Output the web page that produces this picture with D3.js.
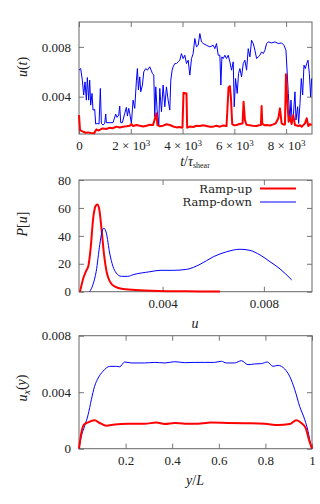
<!DOCTYPE html>
<html>
<head>
<meta charset="utf-8">
<script src="https://cdn.jsdelivr.net/npm/d3@7"></script>
<style>
body{margin:0;background:#fff;}
svg text{font-family:"Liberation Serif","DejaVu Serif",serif;fill:#222;}
svg text.leg{font-family:"DejaVu Serif",serif;}
</style>
</head>
<body>
<div id="chart"></div>
<script>
// top panel: u(t) time series
var timeDown=[0,64,129,181,232,284,322,374,413,451,503,542,606,645,709,774,825,864,928,993,1032,1057,1315,1418,1470,1534,1573,1612,1676,1766,1831,1870,1921,1960,2024,2089,2153,2218,2256,2295,2347,2385,2450,2501,2579,2643,2734,2798,2837,2888,2927,2966,3017,3082,3120,3185,3249,3314,3378,3443,3507,3546,3597,3636,3701,3765,3830,3894,3958,4023,4087,4152,4216,4281,4345,4410,4474,4539,4603,4668,4732,4797,4925,5054,5183,5248,5312,5377,5441,5480,5519,5570,5635,5699,5764,5828,5893,5957,5996,6047,6112,6163,6215,6279,6344,6408,6473,6537,6602,6666,6731,6795,6860,6924,6988,7053,7117,7182,7246,7311,7440,7569,7698,7827,7917,7994,8085,8149,8188,8226,8278,8342,8381,8445,8484,8536,8587,8639,8690,8742,8794,8845,8897,8948,8987];
var uDown=[6.13,6.26,5.33,4.13,5.19,3.72,5.54,3.72,5.33,3.32,4.26,2.92,2.98,1.80,1.85,1.80,4.66,1.85,1.72,1.85,2.60,1.91,1.91,2.60,2.34,2.52,3.24,1.91,1.91,2.66,3.14,2.44,3.06,2.66,1.85,3.72,3.06,5.33,6.26,4.53,5.59,4.39,4.93,5.99,6.26,6.13,6.40,6.07,5.86,5.73,2.39,4.79,2.92,1.72,4.66,2.79,4.93,3.19,4.79,3.72,2.92,5.33,6.13,6.40,6.66,6.66,6.80,6.93,7.46,7.06,7.33,6.66,6.93,5.73,7.06,7.46,8.67,8.00,8.13,9.07,8.40,8.27,8.13,8.00,8.13,7.86,8.27,7.33,7.33,4.93,7.20,7.06,7.33,7.06,7.33,6.80,6.13,6.80,3.19,5.46,4.26,5.86,6.26,5.59,6.66,6.93,6.13,7.86,7.20,8.53,8.27,7.73,7.06,7.20,7.33,7.60,7.46,7.73,8.27,8.40,8.32,8.40,8.27,8.32,8.13,7.73,4.26,2.12,3.72,2.26,2.39,4.39,2.12,3.19,1.85,3.46,5.46,4.13,6.53,6.26,6.66,6.93,5.86,3.99,5.46];
var timeUp=[0,39,155,250,348,450,580,670,740,799,860,928,1060,1186,1300,1444,1570,1702,1830,1960,2024,2089,2220,2347,2480,2605,2740,2862,2991,3030,3130,3249,3380,3507,3640,3765,3880,3997,4036,4152,4178,4300,4410,4540,4668,4800,4925,5050,5183,5310,5441,5570,5699,5776,5828,5867,5918,6000,6086,6200,6318,6357,6408,6470,6537,6700,6860,6950,7027,7053,7079,7160,7246,7380,7504,7600,7698,7762,7827,7890,7955,7994,8046,8097,8149,8213,8278,8342,8410,8471,8540,8600,8670,8729,8794,8858,8920,8987];
var uUp=[2.52,1.32,1.19,1.10,1.13,1.08,1.05,1.37,1.28,1.32,1.40,1.45,1.40,1.51,1.46,1.59,1.52,1.59,1.62,1.67,1.80,1.64,1.72,1.67,1.60,1.67,1.74,1.72,2.66,1.72,1.62,1.67,1.78,1.72,1.60,1.53,1.56,1.51,4.31,4.26,1.51,1.60,1.56,1.66,1.64,1.70,1.64,1.58,1.59,1.66,1.59,1.68,1.64,4.74,4.85,3.99,1.80,1.70,1.72,1.80,1.85,3.59,2.12,1.75,1.72,1.66,1.64,1.70,1.72,3.24,1.85,1.70,1.72,1.68,1.77,1.86,2.26,3.06,1.85,1.76,1.77,5.81,3.72,1.99,2.39,1.80,2.52,1.72,1.68,1.64,1.70,1.59,1.72,1.85,2.26,1.64,1.80,1.72];

// middle panel: P[u]
var pdfUpU=[0.00074,0.00087,0.00098,0.00107,0.00116,0.00126,0.00136,0.00142,0.00149,0.00160,0.00169,0.00179,0.00192,0.00212,0.00245,0.0031,0.00416,0.00548,0.00627];
var pdfUpP=[0,9.6,14.8,18.5,31,52.6,61.5,62.5,60,43,26.3,14.3,7.2,3.6,1.9,1.0,0.4,0.2,0.1];
var pdfDownU=[0.00112,0.00125,0.00138,0.00152,0.00161,0.00168,0.00178,0.00191,0.00204,0.00217,0.00237,0.00263,0.00284,0.0035,0.0039,0.00442,0.00495,0.00548,0.0060,0.00653,0.00706,0.00745,0.00785,0.00824,0.00864,0.0091];
var pdfDownP=[0,5,14.6,33.7,43.3,45.5,42,27.7,18.2,13.4,11,11,12.2,14.3,15.3,15.3,16,19.6,25,28.6,30.4,29.6,26.3,21.5,16.3,8.4];

// bottom panel: u_x(y)
var profDownY=[0,0.01,0.024,0.039,0.053,0.067,0.082,0.103,0.132,0.16,0.175,0.196,0.225,0.282,0.325,0.368,0.411,0.454,0.497,0.539,0.582,0.611,0.632,0.668,0.697,0.725,0.754,0.782,0.808,0.833,0.854,0.883,0.904,0.926,0.947,0.969,0.983,0.993,1];
var profDownU=[0,0.00088,0.00159,0.0024,0.00347,0.00442,0.005,0.00548,0.00583,0.00583,0.0058,0.00614,0.00607,0.00607,0.00611,0.00607,0.00616,0.00609,0.00611,0.00611,0.00611,0.00619,0.00607,0.00607,0.00623,0.00595,0.006,0.00602,0.00614,0.00583,0.0059,0.00564,0.00513,0.00418,0.003,0.00205,0.00123,0.0004,0];
var profUpY=[0,0.01,0.021,0.039,0.067,0.089,0.117,0.153,0.21,0.282,0.332,0.368,0.411,0.454,0.497,0.568,0.64,0.711,0.797,0.854,0.904,0.933,0.954,0.973,0.987,1];
var profUpU=[0,0.00111,0.0017,0.00187,0.00201,0.00182,0.00163,0.00172,0.00177,0.00177,0.00185,0.00175,0.00182,0.00177,0.00177,0.00185,0.00182,0.0018,0.00177,0.00167,0.00175,0.00201,0.00182,0.00146,0.00064,0];

var legendNames=["Ramp-up","Ramp-down"];
var tTicks=[0,2000,4000,6000,8000];

var width=320, height=504;
var left=79, right=312;
var svg=d3.select("#chart").append("svg").attr("width",width).attr("height",height);

function zip(a,b){ return a.map(function(v,i){ return [v,b[i]]; }); }

function panel(top,bottom,x,y,xt,yt,xfmt,yfmt){
    var g=svg.append("g");
    g.append("g").attr("class","xax").attr("transform","translate(0,"+bottom+")")
      .call(d3.axisBottom(x).tickValues(xt).tickSizeInner(-5).tickSizeOuter(0).tickPadding(7).tickFormat(xfmt));
    g.append("g").attr("transform","translate(0,"+top+")")
      .call(d3.axisTop(x).tickValues(xt).tickSizeInner(-5).tickSizeOuter(0).tickFormat(""));
    g.append("g").attr("transform","translate("+left+",0)")
      .call(d3.axisLeft(y).tickValues(yt).tickSizeInner(-5).tickSizeOuter(0).tickPadding(8).tickFormat(yfmt));
    g.append("g").attr("transform","translate("+right+",0)")
      .call(d3.axisRight(y).tickValues(yt).tickSizeInner(-5).tickSizeOuter(0).tickFormat(""));
    g.selectAll(".domain").remove();
    g.selectAll(".tick line").attr("stroke","#777");
    g.selectAll(".tick text").attr("font-size","13px").attr("fill","#222");
    g.append("rect").attr("x",left).attr("y",top).attr("width",right-left).attr("height",bottom-top)
      .attr("fill","none").attr("stroke","#666").attr("stroke-width",1);
    return g;
}

function drawLine(g,data,x,y,color,w,curve){
    var line=d3.line().x(function(d){return x(d[0]);}).y(function(d){return y(d[1]);});
    if(curve) line.curve(curve);
    g.append("path").datum(data).attr("d",line).attr("fill","none")
      .attr("stroke",color).attr("stroke-width",w).attr("stroke-linejoin","round");
}

// ---- panel 1
var x1=d3.scaleLinear().domain([0,9000]).range([left,right]);
var y1=d3.scaleLinear().domain([0.001,0.01]).range([134,22]);
var g1=panel(22,134,x1,y1,tTicks,[0.004,0.008],function(){return "";},d3.format(".3f"));
// x labels like 2 × 10^3
g1.selectAll(".xax .tick text").each(function(d){
    var t=d3.select(this);
    if(d===0){ t.text("0"); return; }
    t.text(null);
    t.append("tspan").text((d/1000)+" \u00d7 10");
    t.append("tspan").attr("dy","-0.45em").attr("font-size","9px").text("3");
});
drawLine(g1,zip(timeDown,uDown.map(function(v){return v/1000;})),x1,y1,"#0000ff",1);
drawLine(g1,zip(timeUp,uUp.map(function(v){return v/1000;})),x1,y1,"#ff0000",2);

// ---- panel 2
var x2=d3.scaleLinear().domain([0.0007,0.0099]).range([left,right]);
var y2=d3.scaleLinear().domain([0,80]).range([291.7,180]);
var g2=panel(180,291.7,x2,y2,[0.004,0.008],[0,20,40,60,80],d3.format(".3f"),d3.format("d"));
drawLine(g2,zip(pdfUpU,pdfUpP),x2,y2,"#ff0000",2,d3.curveMonotoneX);
drawLine(g2,zip(pdfDownU,pdfDownP),x2,y2,"#0000ff",1,d3.curveMonotoneX);

// legend
var lg=svg.append("g");
legendNames.forEach(function(n,i){
    var yy=188.5+i*13.5;
    lg.append("text").attr("class","leg").attr("x",252).attr("y",yy+4).attr("text-anchor","end")
      .attr("font-size","11.5px").text(n);
    lg.append("line").attr("x1",260).attr("x2",296).attr("y1",yy).attr("y2",yy)
      .attr("stroke",i==0?"#ff0000":"#0000ff").attr("stroke-width",i==0?2:1);
});

// ---- panel 3
var x3=d3.scaleLinear().domain([0,1]).range([left,right]);
var y3=d3.scaleLinear().domain([0,0.008]).range([448.7,335.7]);
var g3=panel(335.7,448.7,x3,y3,[0.2,0.4,0.6,0.8,1],[0,0.004,0.008],function(d){return d===1?"1":d3.format(".1f")(d);},function(d){return d===0?"0":d3.format(".3f")(d);});
drawLine(g3,zip(profDownY,profDownU),x3,y3,"#0000ff",1,d3.curveMonotoneX);
drawLine(g3,zip(profUpY,profUpU),x3,y3,"#ff0000",2,d3.curveMonotoneX);

// axis titles
function ylab(cy,build){
    var t=svg.append("text").attr("transform","translate(27,"+cy+") rotate(-90)")
      .attr("text-anchor","middle").attr("font-size","14px");
    build(t);
}
ylab(67,function(t){
    t.append("tspan").attr("font-style","italic").text("u");
    t.append("tspan").text("(");
    t.append("tspan").attr("font-style","italic").text("t");
    t.append("tspan").text(")");
});
ylab(224,function(t){
    t.append("tspan").attr("font-style","italic").text("P");
    t.append("tspan").text("[");
    t.append("tspan").attr("font-style","italic").text("u");
    t.append("tspan").text("]");
});
ylab(388,function(t){
    t.append("tspan").attr("font-style","italic").text("u");
    t.append("tspan").attr("font-style","italic").attr("font-size","10px").attr("dy","0.25em").text("x");
    t.append("tspan").attr("dy","-0.25em").text("(");
    t.append("tspan").attr("font-style","italic").text("y");
    t.append("tspan").text(")");
});

var xl1=svg.append("text").attr("x",195).attr("y",166).attr("text-anchor","middle").attr("font-size","14px");
xl1.append("tspan").attr("font-style","italic").text("t");
xl1.append("tspan").text("/");
xl1.append("tspan").attr("font-style","italic").text("\u03c4");
xl1.append("tspan").attr("font-size","8px").attr("dy","0.3em").text("shear");

svg.append("text").attr("x",195).attr("y",328).attr("text-anchor","middle")
  .attr("font-size","14px").attr("font-style","italic").text("u");

var xl3=svg.append("text").attr("x",195).attr("y",485).attr("text-anchor","middle").attr("font-size","14px");
xl3.append("tspan").attr("font-style","italic").text("y");
xl3.append("tspan").text("/");
xl3.append("tspan").attr("font-style","italic").text("L");
</script>
</body>
</html>
